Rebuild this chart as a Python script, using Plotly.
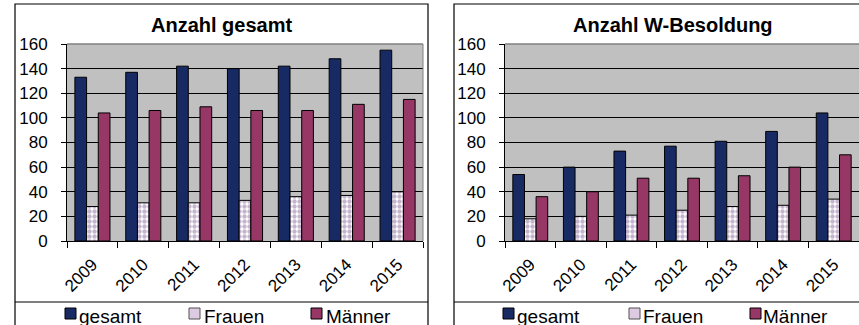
import plotly.graph_objects as go

# ---------------- data ----------------
years = ["2009", "2010", "2011", "2012", "2013", "2014", "2015"]
series_names = ["gesamt", "Frauen", "Männer"]

gesamt_total = [133, 137, 142, 140, 142, 148, 155]
frauen_total = [28, 31, 31, 33, 36, 37, 40]
maenner_total = [104, 106, 109, 106, 106, 111, 115]

gesamt_w = [54, 60, 73, 77, 81, 89, 104]
frauen_w = [18, 20, 21, 25, 28, 29, 34]
maenner_w = [36, 40, 51, 51, 53, 60, 70]

titles = ["Anzahl gesamt", "Anzahl W-Besoldung"]
y_ticks = [0, 20, 40, 60, 80, 100, 120, 140, 160]

# ---------------- styling ----------------
W, H = 859, 325
NAVY = "#182a64"
PLUM = "#963766"
PAT_FG = "#8a6a9c"
GRAY = "#c0c0c0"
FONT = "Liberation Sans, Arial, sans-serif"


def px(x):
    return x / W


def py(y):
    return 1 - y / H


fig = go.Figure()

datasets = [
    (gesamt_total, frauen_total, maenner_total, "x", "y"),
    (gesamt_w, frauen_w, maenner_w, "x2", "y2"),
]

for g, f, m, xa, ya in datasets:
    fig.add_trace(go.Bar(x=years, y=g, name=series_names[0], xaxis=xa, yaxis=ya,
                         marker=dict(color=NAVY, line=dict(color="black", width=1)),
                         showlegend=False, offsetgroup="1"))
    fig.add_trace(go.Bar(x=years, y=f, name=series_names[1], xaxis=xa, yaxis=ya,
                         marker=dict(color="white", line=dict(color="black", width=1),
                                     pattern=dict(shape=".", fgcolor=PAT_FG, bgcolor="white",
                                                  size=5, solidity=0.6, fillmode="overlay")),
                         showlegend=False, offsetgroup="2"))
    fig.add_trace(go.Bar(x=years, y=m, name=series_names[2], xaxis=xa, yaxis=ya,
                         marker=dict(color=PLUM, line=dict(color="black", width=1)),
                         showlegend=False, offsetgroup="3"))

# plot area positions (pixels)
areas = [(67, 423), (505, 860)]
y_top, y_bot = 44, 241

xcommon = dict(type="category", tickson="boundaries", ticks="outside", ticklen=6,
               tickcolor="black", tickwidth=1, tickangle=-45,
               tickfont=dict(family=FONT, size=17, color="black"),
               showline=True, linecolor="black", linewidth=1, showgrid=False,
               ticklabelstandoff=6, automargin=False, fixedrange=True)
ycommon = dict(range=[0, 160], tickvals=y_ticks, ticks="outside", ticklen=5,
               tickcolor="black", tickwidth=1,
               tickfont=dict(family=FONT, size=17, color="black"),
               showline=True, linecolor="black", linewidth=1,
               showgrid=True, gridcolor="black", gridwidth=1,
               zeroline=False, ticklabelstandoff=10, automargin=False, fixedrange=True)

fig.update_layout(
    xaxis=dict(domain=[px(areas[0][0]), px(areas[0][1])], anchor="y", **xcommon),
    yaxis=dict(domain=[py(y_bot), py(y_top)], anchor="x", **ycommon),
    xaxis2=dict(domain=[px(areas[1][0]), min(1.0, px(areas[1][1]))], anchor="y2", **xcommon),
    yaxis2=dict(domain=[py(y_bot), py(y_top)], anchor="x2", **ycommon),
)

shapes = []
annotations = []

# chart outer borders and legend separator lines
chart_boxes = [(15, 428), (454, 875)]
for (x0, x1) in chart_boxes:
    shapes.append(dict(type="rect", xref="paper", yref="paper", x0=px(x0), x1=px(x1),
                       y0=py(340), y1=py(4), line=dict(color="black", width=1.2),
                       fillcolor="rgba(0,0,0,0)", layer="below"))
    shapes.append(dict(type="line", xref="paper", yref="paper", x0=px(x0), x1=px(x1),
                       y0=py(302), y1=py(302), line=dict(color="black", width=1.2)))

# plot area gray top/right edges
for (x0, x1) in areas:
    shapes.append(dict(type="line", xref="paper", yref="paper", x0=px(x0), x1=px(x1),
                       y0=py(y_top), y1=py(y_top), line=dict(color="#808080", width=1.5),
                       layer="above"))
    shapes.append(dict(type="line", xref="paper", yref="paper", x0=px(x1), x1=px(x1),
                       y0=py(y_bot), y1=py(y_top), line=dict(color="#808080", width=1),
                       layer="above"))

# titles
title_x = [221, 673]
for t, cx in zip(titles, title_x):
    annotations.append(dict(text="<b>" + t + "</b>", xref="paper", yref="paper",
                            x=px(cx), y=py(24.5), xanchor="center", yanchor="middle",
                            showarrow=False,
                            font=dict(family=FONT, size=20, color="black")))

# manual legends
legend_pos = [
    [(65, 79), (189, 204), (311, 326)],
    [(503, 517), (629, 643), (750, 763)],
]
sq_fill = [NAVY, "#dccbe2", PLUM]
sq_line = ["black", "#505050", "black"]
for entries in legend_pos:
    for i, (sx, tx) in enumerate(entries):
        shapes.append(dict(type="rect", xref="paper", yref="paper",
                           x0=px(sx), x1=px(sx + 11), y0=py(319), y1=py(308),
                           fillcolor=sq_fill[i], line=dict(color=sq_line[i], width=1)))
        annotations.append(dict(text=series_names[i], xref="paper", yref="paper",
                                x=px(tx - 2), y=py(316.5), xanchor="left", yanchor="middle",
                                showarrow=False,
                                font=dict(family=FONT, size=19, color="black")))

fig.update_layout(
    width=W, height=H, autosize=False,
    margin=dict(l=0, r=0, t=0, b=0, pad=0, autoexpand=False),
    paper_bgcolor="white", plot_bgcolor=GRAY,
    barmode="group", bargap=0.31, bargroupgap=0,
    shapes=shapes, annotations=annotations,
    showlegend=False,
)

fig.write_html("out.html",
               config={"displayModeBar": False, "staticPlot": True},
               post_script="document.body.style.margin='0';document.body.style.overflow='hidden';")
